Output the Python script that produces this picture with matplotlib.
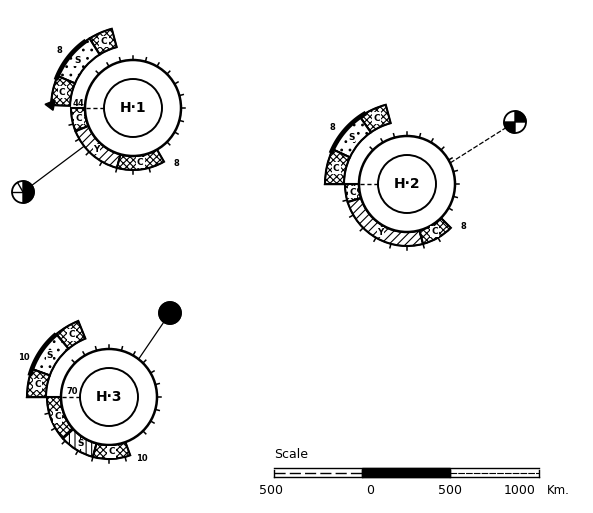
import numpy as np
import matplotlib
matplotlib.use('Agg')
import matplotlib.pyplot as plt
from matplotlib.patches import Wedge, Circle, Rectangle, Polygon

plt.rcParams['hatch.linewidth'] = 0.8
W, H = 593, 513

# ---------------- data ----------------
hemis = ['H·1', 'H·2', 'H·3']
centers_px = [(133, 108), (407, 184), (109, 397)]

# lower band segments: (start deg, end deg, type)
lower_bands = [
    [(180, 202, 'C'), (202, 255, 'Y'), (255, 300, 'C')],
    [(180, 197, 'C'), (197, 285, 'Y'), (285, 315, 'C')],
    [(180, 222, 'C'), (222, 255, 'V'), (255, 290, 'C')],
]
# upper band segments
upper_bands = [
    [(105, 122, 'C'), (122, 157, 'S'), (157, 178, 'C')],
    [(105, 125, 'C'), (125, 155, 'S'), (155, 180, 'C')],
    [(112, 130, 'C'), (130, 160, 'S'), (160, 180, 'C')],
]
thick_arcs = [(125, 160), (120, 158), (130, 165)]
upper_labels = ['8', '8', '10']
upper_label_angle = [142, 143, 155]
lower_labels = ['8', '8', '10']
depth_labels = ['44', '', '70']
balloon_pos = [(23, 192), (515, 122), (170, 313)]
balloon_anchor = [(218, 62), (26, 48), (52, 48)]
balloon_black = [[(-90, 90)], [(0, 90), (180, 270)], [(0, 360)]]

scale_ticks = [-500, 0, 500, 1000]
scale_labels = ['500', '0', '500', '1000']
scale_label_shift = [-3, 8, 0, -19]

# ---------------- geometry / style ----------------
R_IN, R_OUT = 29, 48
LB_IN, LB_OUT = 48, 62
UB_IN, UB_OUT = 63, 82
hatches = {'C': 'xxxxx', 'Y': '////', 'S': '..', 'V': '|||'}

fig = plt.figure(figsize=(W / 100, H / 100), dpi=100)
ax = fig.add_axes([0, 0, 1, 1])
ax.set_xlim(0, W)
ax.set_ylim(0, H)
ax.axis('off')


def P(c, r, a):
    t = np.deg2rad(a)
    return c[0] + r * np.cos(t), c[1] + r * np.sin(t)


def draw_band(c, segs, rin, rout, ticks=False):
    for a1, a2, typ in segs:
        w = Wedge(c, rout, a1, a2, width=rout - rin, facecolor='white',
                  edgecolor='black', lw=1.0, hatch=hatches[typ])
        ax.add_patch(w)
        w2 = Wedge(c, rout, a1, a2, width=rout - rin, facecolor='none',
                   edgecolor='black', lw=1.5)
        ax.add_patch(w2)
        am = (a1 + a2) / 2
        x, y = P(c, (rin + rout) / 2, am)
        lab = 'C' if typ == 'C' else ('Y' if typ == 'Y' else 'S')
        pad = 0.15 if typ == 'C' else 0.05
        ax.text(x, y, lab, fontsize=6.5, ha='center', va='center',
                fontweight='bold',
                bbox=dict(boxstyle='square,pad=%s' % pad, fc='white', ec='none'))
    if ticks:
        a_start, a_end = segs[0][0], segs[-1][1]
        for a in np.arange(a_start + 15, a_end, 15):
            x1, y1 = P(c, rout, a)
            x2, y2 = P(c, rout + 4, a)
            ax.plot([x1, x2], [y1, y2], color='black', lw=1.1)


for i, name in enumerate(hemis):
    c = (centers_px[i][0], H - centers_px[i][1])
    # bands
    draw_band(c, lower_bands[i], LB_IN, LB_OUT, ticks=True)
    draw_band(c, upper_bands[i], UB_IN, UB_OUT)
    # thick arc
    ta = np.linspace(np.deg2rad(thick_arcs[i][0]), np.deg2rad(thick_arcs[i][1]), 50)
    ax.plot(c[0] + UB_OUT * np.cos(ta), c[1] + UB_OUT * np.sin(ta),
            color='black', lw=3.4, solid_capstyle='butt')
    # circles
    ax.add_patch(Circle(c, R_OUT, facecolor='white', edgecolor='black', lw=1.8))
    ax.add_patch(Circle(c, R_IN, facecolor='white', edgecolor='black', lw=1.4))
    # ticks on outer circle
    for a in np.arange(-45, 136, 15):
        x1, y1 = P(c, R_OUT, a)
        x2, y2 = P(c, R_OUT + 4, a)
        ax.plot([x1, x2], [y1, y2], color='black', lw=1.1)
    # dashed radius
    ax.plot([c[0] - R_IN, c[0] - R_OUT], [c[1], c[1]], color='black',
            lw=1.0, ls=(0, (3, 2)))
    ax.text(c[0], c[1], name, fontsize=10, ha='center', va='center',
            fontweight='bold')
    # labels
    x, y = P(c, UB_OUT + 12, upper_label_angle[i])
    ax.text(x, y, upper_labels[i], fontsize=6, ha='center', va='center', fontweight='bold')
    x, y = P(c, LB_OUT + 8, lower_bands[i][-1][1] + 8)
    ax.text(x, y, lower_labels[i], fontsize=6, ha='center', va='center', fontweight='bold')
    if depth_labels[i]:
        ax.text(c[0] - 37 - (18 if i == 0 else 0), c[1] + 5, depth_labels[i],
                fontsize=6, ha='center', va='center', fontweight='bold')
    # left end mark of upper band
    x1, y1 = P(c, UB_IN, 180)
    if i == 0:
        x1, y1 = P(c, UB_OUT - 4, 178)
        ax.add_patch(Polygon([[x1, y1 + 5], [x1 - 10, y1 + 1], [x1 - 2, y1 - 5]],
                             closed=True, facecolor='black', edgecolor='black'))
    else:
        ax.plot([x1 - 20, x1], [y1, y1], color='black', lw=1.0)
    # balloon
    bx, by = balloon_pos[i][0], H - balloon_pos[i][1]
    ax_ang, ax_r = balloon_anchor[i]
    x1, y1 = P(c, ax_r, ax_ang)
    ax.plot([x1, bx], [y1, by], color='black', lw=0.9,
            ls='-' if i != 1 else (0, (4, 1.5)))
    ax.add_patch(Circle((bx, by), 11, facecolor='white', edgecolor='black', lw=1.3))
    for a1, a2 in balloon_black[i]:
        ax.add_patch(Wedge((bx, by), 11, a1, a2, facecolor='black', edgecolor='black'))
    if i == 0:
        ax.plot([bx - 11, bx], [by, by], color='black', lw=1)
        x2, y2 = P((bx, by), 11, 120)
        ax.plot([bx, x2], [by, y2], color='black', lw=1)

# ---------------- scale bar ----------------
x0, kpx = 362.0, 0.1767
ytop, ybot = H - 468, H - 477
xs = [x0 + t * kpx for t in scale_ticks]
ax.plot([xs[0], xs[-1]], [ytop, ytop], color='black', lw=1.0)
ax.plot([xs[0], xs[-1]], [ybot, ybot], color='black', lw=1.0)
for xv in xs:
    ax.plot([xv, xv], [ytop - 2, ybot], color='black', lw=1.0)
ax.add_patch(Rectangle((xs[1], ybot), xs[2] - xs[1], ytop - ybot,
                       facecolor='black', edgecolor='black'))
ax.plot([xs[0], xs[1]], [(ytop + ybot) / 2] * 2, color='black', lw=1.0,
        ls=(0, (8, 3)))
ax.plot([xs[2], xs[3]], [(ytop + ybot) / 2] * 2, color='black', lw=0.8,
        ls=(0, (6, 1)))
ax.text(xs[0], H - 455, 'Scale', fontsize=9, ha='left', va='center')
for xv, lab, sh in zip(xs, scale_labels, scale_label_shift):
    ax.text(xv + sh, H - 490, lab, fontsize=9, ha='center', va='center')
ax.text(xs[-1] + 8, H - 490, 'Km.', fontsize=8.5, ha='left', va='center')

fig.savefig('out.png', dpi=100)
